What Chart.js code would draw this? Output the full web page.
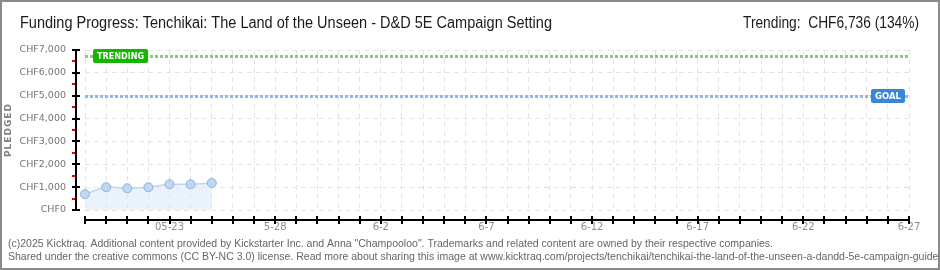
<!DOCTYPE html>
<html>
<head>
<meta charset="utf-8">
<script src="https://cdn.jsdelivr.net/npm/chart.js@4.4.1/dist/chart.umd.min.js"></script>
<style>
  html, body { margin: 0; padding: 0; background: #fff; }
  #wrap { position: relative; width: 940px; height: 270px; }
</style>
</head>
<body>
<div id="wrap"><canvas id="fundingChart" width="940" height="270"></canvas></div>
<script>
// Chart data
const dayLabels = [
    '5-19', '5-20', '5-21', '5-22', '05-23', '5-24', '5-25', '5-26', '5-27', '5-28',
    '5-29', '5-30', '5-31', '6-1', '6-2', '6-3', '6-4', '6-5', '6-6', '6-7',
    '6-8', '6-9', '6-10', '6-11', '6-12', '6-13', '6-14', '6-15', '6-16', '6-17',
    '6-18', '6-19', '6-20', '6-21', '6-22', '6-23', '6-24', '6-25', '6-26', '6-27'
];
const pledged = [690, 995, 950, 995, 1125, 1125, 1180];
const goalValue = 5000;
const trendValue = 6736;
const yTicks = [0, 1000, 2000, 3000, 4000, 5000, 6000, 7000];

const titleText = 'Funding Progress: Tenchikai: The Land of the Unseen - D&D 5E Campaign Setting';
const trendText = 'Trending:  CHF6,736 (134%)';
const footerLines = [
    '(c)2025 Kicktraq. Additional content provided by Kickstarter Inc. and Anna "Champooloo". Trademarks and related content are owned by their respective companies.',
    'Shared under the creative commons (CC BY-NC 3.0) license. Read more about sharing this image at www.kicktraq.com/projects/tenchikai/tenchikai-the-land-of-the-unseen-a-dandd-5e-campaign-guide/'
];

// squeeze text horizontally so it takes a given width (narrow font look)
function fitText(ctx, text, x, y, width, align) {
    const w = ctx.measureText(text).width;
    const sx = width / w;
    ctx.save();
    ctx.textAlign = 'left';
    const left = align === 'right' ? x - width : x;
    ctx.translate(left, y);
    ctx.scale(sx, 1);
    ctx.fillText(text, 0, 0);
    ctx.restore();
    return sx;
}

// Draws title, footer, axes lines, goal/trend markers
const decorPlugin = {
    id: 'decor',
    beforeDraw(chart) {
        const ctx = chart.ctx;
        ctx.save();
        ctx.fillStyle = '#fff';
        ctx.fillRect(0, 0, chart.width, chart.height);
        ctx.restore();
    },
    afterDatasetsDraw(chart) {
        const ctx = chart.ctx;
        const area = chart.chartArea;
        const x = chart.scales.x;
        const y = chart.scales.y;

        ctx.save();
        // title
        ctx.fillStyle = '#1a1a1a';
        ctx.textBaseline = 'alphabetic';
        ctx.font = '16px "Liberation Sans"';
        fitText(ctx, titleText, 20, 28, 532, 'left');
        fitText(ctx, trendText, 919, 28, 176, 'right');

        // footer
        ctx.fillStyle = '#666';
        ctx.font = '11px "Liberation Sans"';
        const sx = fitText(ctx, footerLines[0], 8, 247, 765, 'left');
        ctx.save();
        ctx.translate(8, 260);
        ctx.scale(sx, 1);
        ctx.fillText(footerLines[1], 0, 0);
        ctx.restore();

        // PLEDGED axis title
        ctx.save();
        ctx.translate(9, 130);
        ctx.rotate(-Math.PI / 2);
        ctx.fillStyle = '#808080';
        ctx.font = 'bold 9px "DejaVu Sans"';
        ctx.letterSpacing = '1px';
        ctx.textAlign = 'center';
        ctx.textBaseline = 'middle';
        ctx.fillText('PLEDGED', 0, 0);
        ctx.restore();

        // y axis line with ticks
        const ax = area.left - 9;
        ctx.strokeStyle = '#000';
        ctx.lineWidth = 2;
        ctx.beginPath();
        ctx.moveTo(ax, area.top - 1);
        ctx.lineTo(ax, area.bottom + 1);
        ctx.stroke();
        yTicks.forEach(v => {
            const py = Math.round(y.getPixelForValue(v));
            ctx.beginPath();
            ctx.moveTo(ax - 4, py);
            ctx.lineTo(ax + 4, py);
            ctx.stroke();
        });
        ctx.strokeStyle = '#e00';
        for (let i = 0; i < yTicks.length - 1; i++) {
            const py = Math.round(y.getPixelForValue(yTicks[i] + 500));
            ctx.beginPath();
            ctx.moveTo(ax - 4, py);
            ctx.lineTo(ax - 1, py);
            ctx.stroke();
        }

        // x axis line with ticks
        const ay = area.bottom + 10;
        ctx.strokeStyle = '#000';
        ctx.lineWidth = 2;
        ctx.beginPath();
        ctx.moveTo(area.left - 1, ay);
        ctx.lineTo(area.right + 1, ay);
        ctx.stroke();
        dayLabels.forEach((d, i) => {
            const px = Math.round(x.getPixelForValue(i));
            ctx.beginPath();
            ctx.moveTo(px, ay - 4);
            ctx.lineTo(px, ay + 4);
            ctx.stroke();
        });

        // trend and goal lines
        const drawLevel = (val, color) => {
            const py = Math.round(y.getPixelForValue(val));
            ctx.strokeStyle = color;
            ctx.lineWidth = 3;
            ctx.setLineDash([3, 2]);
            ctx.beginPath();
            ctx.moveTo(area.left, py + 0.5);
            ctx.lineTo(area.right, py + 0.5);
            ctx.stroke();
            ctx.setLineDash([]);
            return py;
        };
        const drawTag = (text, bx, py, w, fill) => {
            ctx.fillStyle = fill;
            ctx.beginPath();
            ctx.roundRect(bx, py - 7, w, 14, 2);
            ctx.fill();
            ctx.fillStyle = '#fff';
            ctx.font = 'bold 9px "DejaVu Sans"';
            ctx.textAlign = 'center';
            ctx.textBaseline = 'middle';
            fitText(ctx, text, bx + 4, py + 1, w - 8, 'left');
        };
        const ty = drawLevel(trendValue, '#7fd16a');
        const gy = drawLevel(goalValue, '#8cb8e8');
        drawTag('TRENDING', area.left + 8, ty, 55, '#17b400');
        drawTag('GOAL', area.right - 38, gy, 34, '#3a86d6');

        // frame
        ctx.strokeStyle = '#8a8a8a';
        ctx.lineWidth = 2;
        ctx.strokeRect(1, 1, chart.width - 2, chart.height - 2);
        ctx.restore();
    }
};

function initializeFundingChart() {
    const ctx = document.getElementById('fundingChart').getContext('2d');
    new Chart(ctx, {
        type: 'line',
        data: {
            labels: dayLabels,
            datasets: [{
                label: 'Pledged',
                data: pledged,
                borderColor: '#bcd5f0',
                borderWidth: 1.5,
                backgroundColor: 'rgba(214, 231, 250, 0.5)',
                fill: 'origin',
                tension: 0.3,
                pointRadius: 4.5,
                pointBackgroundColor: '#bdd8f4',
                pointBorderColor: '#93b2d6',
                pointBorderWidth: 1
            }]
        },
        options: {
            responsive: false,
            animation: false,
            layout: {
                padding: { left: 10, right: 31, top: 50, bottom: 35 }
            },
            plugins: {
                legend: { display: false },
                tooltip: { enabled: false }
            },
            scales: {
                x: {
                    offset: false,
                    afterFit: function(scale) { scale.height = 25; },
                    grid: {
                        color: '#e4e4e4',
                        drawTicks: false
                    },
                    border: { display: false, dash: [5, 4] },
                    ticks: {
                        autoSkip: false,
                        maxRotation: 0,
                        padding: 11,
                        color: '#8c8c8c',
                        font: { family: 'DejaVu Sans', size: 10 },
                        callback: function(value, index) {
                            return index % 5 === 4 ? dayLabels[index] : '';
                        }
                    }
                },
                y: {
                    min: 0,
                    max: 7000,
                    afterFit: function(scale) { scale.width = 75; },
                    grid: {
                        color: '#e4e4e4',
                        drawTicks: false
                    },
                    border: { display: false, dash: [5, 4] },
                    ticks: {
                        stepSize: 1000,
                        padding: 19,
                        color: '#737373',
                        font: { family: 'DejaVu Sans', size: 9.5 },
                        callback: function(value) {
                            return 'CHF' + value.toLocaleString('en-US');
                        }
                    }
                }
            }
        },
        plugins: [decorPlugin]
    });
}

document.addEventListener('DOMContentLoaded', initializeFundingChart);
</script>
</body>
</html>
